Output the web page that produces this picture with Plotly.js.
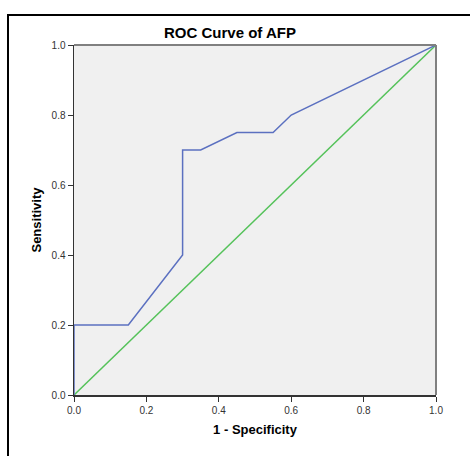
<!DOCTYPE html>
<html>
<head>
<meta charset="utf-8">
<script src="https://cdn.plot.ly/plotly-3.0.1.min.js"></script>
<style>html,body{margin:0;padding:0;background:#fff;}</style>
</head>
<body>
<div id="chart" style="width:470px;height:456px;"></div>
<script>
const rocX = [0, 0, 0.15, 0.3, 0.3, 0.35, 0.45, 0.55, 0.6, 1.0];
const rocY = [0, 0.2, 0.2, 0.4, 0.7, 0.7, 0.75, 0.75, 0.8, 1.0];
const refX = [0, 1];
const refY = [0, 1];
const tickVals = [0, 0.2, 0.4, 0.6, 0.8, 1.0];
const tickText = ["0.0", "0.2", "0.4", "0.6", "0.8", "1.0"];

const traces = [
  {x: refX, y: refY, mode: 'lines', line: {color: '#55c25a', width: 1.5}, hoverinfo: 'skip', showlegend: false},
  {x: rocX, y: rocY, mode: 'lines', line: {color: '#5b70c0', width: 1.5}, hoverinfo: 'skip', showlegend: false}
];

const fontFam = 'Liberation Sans, Arial, sans-serif';
const layout = {
  width: 470, height: 456,
  margin: {l: 74, r: 34, t: 45, b: 61, pad: 0},
  paper_bgcolor: '#ffffff',
  plot_bgcolor: '#f0f0f0',
  showlegend: false,
  title: {text: '<b>ROC Curve of AFP</b>', font: {family: fontFam, size: 15, color: '#000'},
          x: (230-74)/362, xref: 'paper', xanchor: 'center', y: 1 - 33/456, yref: 'container', yanchor: 'middle'},
  xaxis: {range: [0, 1], tickvals: tickVals, ticktext: tickText, ticks: 'outside', ticklen: 5, tickcolor: '#333',
          showgrid: false, zeroline: false, showline: true, linecolor: '#333', linewidth: 1.5,
          tickfont: {family: fontFam, size: 10, color: '#333'},
          title: {text: '<b>1 - Specificity</b>', font: {family: fontFam, size: 13, color: '#000'}, standoff: 10},
          fixedrange: true},
  yaxis: {range: [0, 1], tickvals: tickVals, ticktext: tickText, ticks: 'outside', ticklen: 5, tickcolor: '#333',
          showgrid: false, zeroline: false, showline: true, linecolor: '#333', linewidth: 1.5,
          tickfont: {family: fontFam, size: 10, color: '#333'},
          title: {text: '<b>Sensitivity</b>', font: {family: fontFam, size: 13, color: '#000'}, standoff: 7},
          fixedrange: true},
  shapes: [
    {type: 'line', xref: 'paper', yref: 'paper', x0: 0, x1: 1, y0: 1, y1: 1, line: {color: '#808080', width: 2}},
    {type: 'line', xref: 'paper', yref: 'paper', x0: 1, x1: 1, y0: 0, y1: 1, line: {color: '#808080', width: 2}},
    {type: 'rect', xref: 'paper', yref: 'paper', x0: (8-74)/362, x1: (490-74)/362, y0: (395-480)/350, y1: (395-15)/350,
     line: {color: '#000', width: 2}, fillcolor: 'rgba(0,0,0,0)', layer: 'below'}
  ]
};
Plotly.newPlot('chart', traces, layout, {displayModeBar: false, staticPlot: true});
</script>
</body>
</html>
